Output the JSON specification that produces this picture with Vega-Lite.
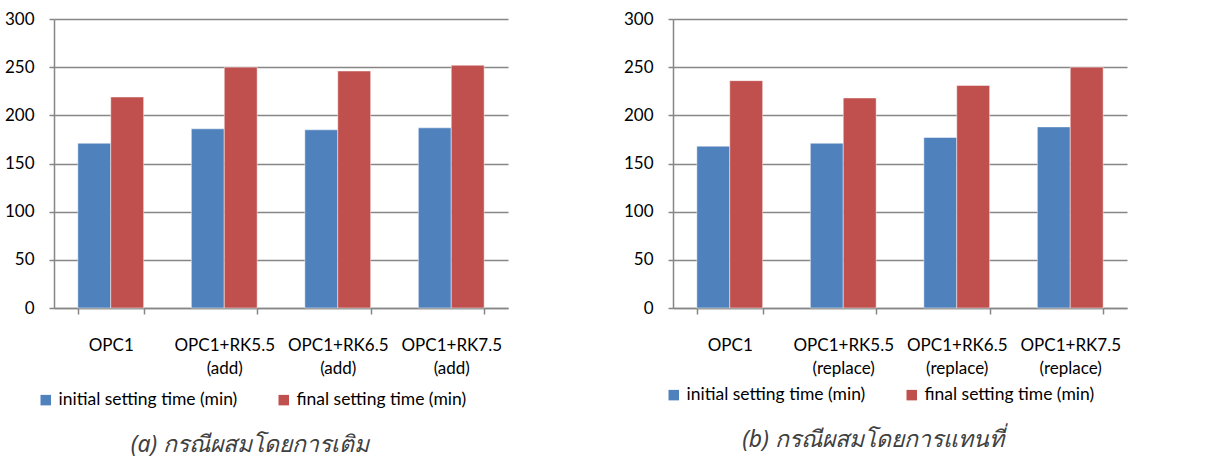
{
  "$schema": "https://vega.github.io/schema/vega-lite/v6.json",
  "background": "white",
  "padding": {"left": 4, "top": 10, "right": 5, "bottom": 0},
  "spacing": 165,
  "bounds": "flush",
  "resolve": {"legend": {"color": "independent"}},
  "datasets": {
    "a": [
      {"mix": "OPC1", "series": "initial setting time (min)", "time": 171},
      {"mix": "OPC1", "series": "final setting time (min)", "time": 219},
      {"mix": "OPC1+RK5.5|(add)", "series": "initial setting time (min)", "time": 186},
      {"mix": "OPC1+RK5.5|(add)", "series": "final setting time (min)", "time": 250},
      {"mix": "OPC1+RK6.5|(add)", "series": "initial setting time (min)", "time": 185},
      {"mix": "OPC1+RK6.5|(add)", "series": "final setting time (min)", "time": 246},
      {"mix": "OPC1+RK7.5|(add)", "series": "initial setting time (min)", "time": 187},
      {"mix": "OPC1+RK7.5|(add)", "series": "final setting time (min)", "time": 252}
    ],
    "b": [
      {"mix": "OPC1", "series": "initial setting time (min)", "time": 168},
      {"mix": "OPC1", "series": "final setting time (min)", "time": 236},
      {"mix": "OPC1+RK5.5|(replace)", "series": "initial setting time (min)", "time": 171},
      {"mix": "OPC1+RK5.5|(replace)", "series": "final setting time (min)", "time": 218},
      {"mix": "OPC1+RK6.5|(replace)", "series": "initial setting time (min)", "time": 177},
      {"mix": "OPC1+RK6.5|(replace)", "series": "final setting time (min)", "time": 231},
      {"mix": "OPC1+RK7.5|(replace)", "series": "initial setting time (min)", "time": 188},
      {"mix": "OPC1+RK7.5|(replace)", "series": "final setting time (min)", "time": 250}
    ]
  },
  "config": {
    "font": "Lato",
    "view": {"stroke": null},
    "axis": {
      "labelFont": "Lato",
      "labelFontSize": 17,
      "labelColor": "#000000",
      "domainColor": "#868686",
      "domainWidth": 1.5,
      "tickColor": "#868686",
      "tickWidth": 1.5,
      "gridColor": "#868686",
      "gridWidth": 1.5,
      "gridOpacity": 1,
      "title": null
    },
    "legend": {
      "orient": "none",
      "direction": "horizontal",
      "symbolType": "square",
      "symbolSize": 110,
      "symbolStrokeWidth": 0,
      "labelFont": "Lato",
      "labelFontSize": 17.5,
      "labelColor": "#000000",
      "labelOffset": 4,
      "labelLimit": 400,
      "columnPadding": 37,
      "gridAlign": "all",
      "title": null
    },
    "title": {
      "font": "Noto Sans",
      "fontSize": 23,
      "fontStyle": "italic",
      "fontWeight": "normal",
      "color": "#404040",
      "orient": "bottom",
      "anchor": "middle",
      "offset": 25
    }
  },
  "hconcat": [
    {
      "width": 454,
      "height": 289,
      "data": {"name": "a"},
      "title": {"text": "(a) กรณีผสมโดยการเติม", "dx": -31},
      "mark": {"type": "bar", "stroke": "white", "strokeOpacity": 0.6, "strokeWidth": 0.8},
      "encoding": {
        "x": {
          "field": "mix", "type": "nominal", "sort": null,
          "scale": {"paddingInner": 0.42, "paddingOuter": 0.21},
          "axis": {"labelAngle": 0, "tickBand": "extent", "tickSize": 6, "labelPadding": 23, "labelLineHeight": 23, "labelExpr": "isValid(datum.value) ? split(datum.value, '|') : ''"}
        },
        "xOffset": {"field": "series", "type": "nominal", "sort": ["initial setting time (min)", "final setting time (min)"]},
        "y": {
          "field": "time", "type": "quantitative",
          "scale": {"domain": [0, 300]},
          "axis": {"values": [0, 50, 100, 150, 200, 250, 300], "grid": true, "tickSize": 5, "labelPadding": 15}
        },
        "color": {
          "field": "series", "type": "nominal",
          "scale": {"domain": ["initial setting time (min)", "final setting time (min)"], "range": ["#4F81BD", "#C0504D"]},
          "legend": {"legendX": -17, "legendY": 372}
        }
      }
    },
    {
      "width": 454,
      "height": 289,
      "data": {"name": "b"},
      "title": {"text": "(b) กรณีผสมโดยการแทนที่", "dx": -27},
      "mark": {"type": "bar", "stroke": "white", "strokeOpacity": 0.6, "strokeWidth": 0.8},
      "encoding": {
        "x": {
          "field": "mix", "type": "nominal", "sort": null,
          "scale": {"paddingInner": 0.42, "paddingOuter": 0.21},
          "axis": {"labelAngle": 0, "tickBand": "extent", "tickSize": 6, "labelPadding": 23, "labelLineHeight": 23, "labelExpr": "isValid(datum.value) ? split(datum.value, '|') : ''"}
        },
        "xOffset": {"field": "series", "type": "nominal", "sort": ["initial setting time (min)", "final setting time (min)"]},
        "y": {
          "field": "time", "type": "quantitative",
          "scale": {"domain": [0, 300]},
          "axis": {"values": [0, 50, 100, 150, 200, 250, 300], "grid": true, "tickSize": 5, "labelPadding": 15}
        },
        "color": {
          "field": "series", "type": "nominal",
          "scale": {"domain": ["initial setting time (min)", "final setting time (min)"], "range": ["#4F81BD", "#C0504D"]},
          "legend": {"legendX": -8, "legendY": 367}
        }
      }
    }
  ]
}
